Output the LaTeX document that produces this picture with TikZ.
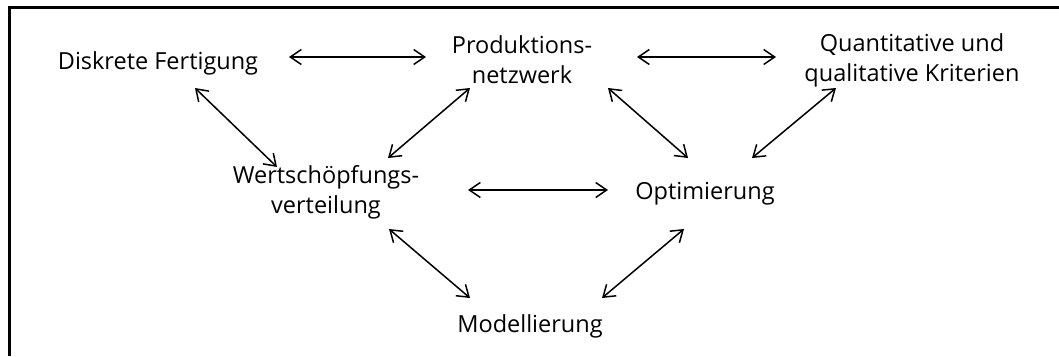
\documentclass[tikz,border=0pt]{standalone}
\usepackage{fontspec}
\setmainfont{Open Sans}
\usetikzlibrary{arrows.meta}
\begin{document}
\begin{tikzpicture}[x=1pt,y=-1pt,
  lbl/.style={align=center,inner sep=0pt,font=\fontsize{23.5}{30}\selectfont},
  arr/.style={line width=1.5pt,{Straight Barb[length=11pt,width=15pt,line width=1.5pt]}-{Straight Barb[length=11pt,width=15pt,line width=1.5pt]}}]
\useasboundingbox (0,0) rectangle (1059,356);
% frame (top and left edges)
\draw[line width=3pt] (1059,7) -- (9,7) -- (9,356);
% concepts
\node[lbl] (dis) at (158,63) {Diskrete Fertigung};
\node[lbl] (pro) at (522,60) {Produktions-\\netzwerk};
\node[lbl] (qua) at (912,60) {Quantitative und\\qualitative Kriterien};
\node[lbl] (wer) at (326,192) {Wertschöpfungs-\\verteilung};
\node[lbl] (opt) at (705,194) {Optimierung};
\node[lbl] (mod) at (530,326) {Modellierung};
% relations
\draw[arr] ([shift={(131,-6)}]dis.center) -- ([shift={(-96,-3)}]pro.center);
\draw[arr] ([shift={(115,-3)}]pro.center) -- ([shift={(-136,-3)}]qua.center);
\draw[arr] ([shift={(37,25)}]dis.center) -- ([shift={(-49,-25)}]wer.center);
\draw[arr] ([shift={(62,-34)}]wer.center) -- ([shift={(-52,28)}]pro.center);
\draw[arr] ([shift={(86,28)}]pro.center) -- ([shift={(-17,-36)}]opt.center);
\draw[arr] ([shift={(-76,28)}]qua.center) -- ([shift={(47,-36)}]opt.center);
\draw[arr] ([shift={(142,-2)}]wer.center) -- ([shift={(-97,-4)}]opt.center);
\draw[arr] ([shift={(63,37)}]wer.center) -- ([shift={(-60,-28)}]mod.center);
\draw[arr] ([shift={(72,-28)}]mod.center) -- ([shift={(-21,35)}]opt.center);
\end{tikzpicture}
\end{document}
